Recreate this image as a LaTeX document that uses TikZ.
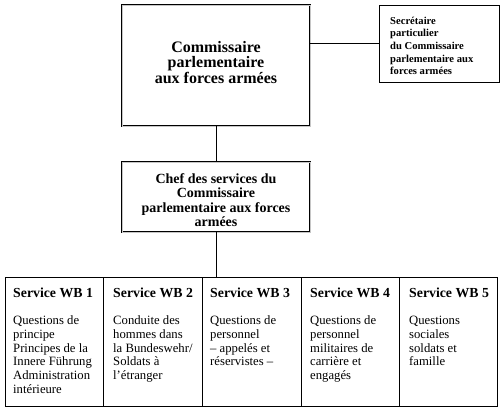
\documentclass[tikz,border=0pt]{standalone}
\usepackage{fontspec}
\setmainfont{Liberation Serif}
\begin{document}
\begin{tikzpicture}[x=1pt,y=-1pt]
\tikzset{
  dbox/.style={draw, double=gray!45, double distance=0.8pt, line width=0.5pt, inner sep=0pt, outer sep=0pt},
  sbox/.style={draw, line width=0.7pt, inner sep=0pt, outer sep=0pt, anchor=north west, minimum width=98pt, minimum height=129pt},
  conn/.style={draw, line width=0.7pt},
  maintxt/.style={font=\bfseries\fontsize{16}{15.5}\selectfont, align=center, inner sep=0pt},
  chieftxt/.style={font=\bfseries\fontsize{14}{14.4}\selectfont, align=center, inner sep=0pt},
  sectxt/.style={font=\bfseries\fontsize{10.6}{12.7}\selectfont, align=left, inner sep=0pt, anchor=north west},
  coltxt/.style={font=\fontsize{12.7}{13.7}\selectfont, align=left, inner sep=0pt, anchor=north west},
}
\useasboundingbox (0,0) rectangle (500,415);
\fill[white] (0,0) rectangle (500,415);

% main box
\node[dbox, minimum width=188pt, minimum height=121pt] (main) at (216,65.5) {};
\node[maintxt] (maintext) at (216,62.5) {Commissaire\\parlementaire\\aux forces armées};

% secretary
\node[draw, line width=0.7pt, inner sep=0pt, minimum width=120pt, minimum height=77pt] (sec) at (439,43.5) {};
\node[sectxt] (sectext) at (390,16.5) {Secrétaire\\particulier\\du Commissaire\\parlementaire aux\\forces armées};

% chief
\node[dbox, minimum width=188pt, minimum height=70pt] (chef) at (216,197) {};
\node[chieftxt] (cheftext) at (216,200) {Chef des services du\\Commissaire\\parlementaire aux forces\\armées};

% columns
\node[sbox] (col1) at (5,277) {};
\node[sbox, minimum width=99pt] (col2) at (103,277) {};
\node[sbox, minimum width=99pt] (col3) at (202,277) {};
\node[sbox] (col4) at (301,277) {};
\node[sbox] (col5) at (399,277) {};

\newcommand{\hdr}[1]{{\bfseries\fontsize{13.8}{13.7}\selectfont #1}\\[13.8pt]}
\node[coltxt] (t1) at (13,287.5) {\hdr{Service WB 1}Questions de\\principe\\Principes de la\\Innere Führung\\Administration\\intérieure};
\node[coltxt] (t2) at (113,287.5) {\hdr{Service WB 2}Conduite des\\hommes dans\\la Bundeswehr/\\Soldats à\\l’étranger};
\node[coltxt] (t3) at (210,287.5) {\hdr{Service WB 3}Questions de\\personnel\\– appelés et\\réservistes –};
\node[coltxt] (t4) at (310,287.5) {\hdr{Service WB 4}Questions de\\personnel\\militaires de\\carrière et\\engagés};
\node[coltxt] (t5) at (409,287.5) {\hdr{Service WB 5}Questions\\sociales\\soldats et\\famille};

% connectors
\draw[conn] (sec.west) -- (main.east |- sec.west);
\draw[conn] (main.south) -- (chef.north);
\draw[conn] (chef.south) -- (chef.south |- col3.north);
\end{tikzpicture}
\end{document}
